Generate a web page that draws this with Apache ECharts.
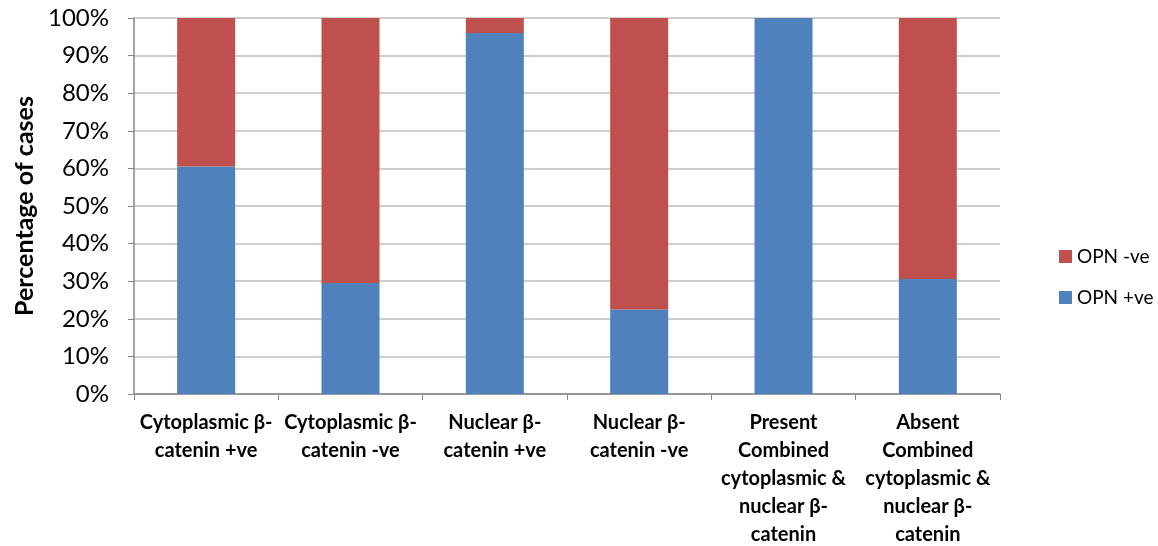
<!DOCTYPE html>
<html>
<head>
<meta charset="utf-8">
<script src="https://cdn.jsdelivr.net/npm/echarts@6/dist/echarts.min.js"></script>
<style>html,body{margin:0;padding:0;background:#fff;}#c{width:1158px;height:546px;}</style>
</head>
<body>
<div id="c"></div>
<script>
const categories = [
  'Cytoplasmic β-\ncatenin +ve',
  'Cytoplasmic β-\ncatenin -ve',
  'Nuclear β-\ncatenin +ve',
  'Nuclear β-\ncatenin -ve',
  'Present\nCombined\ncytoplasmic &\nnuclear β-\ncatenin',
  'Absent\nCombined\ncytoplasmic &\nnuclear β-\ncatenin'
];
const opnPos = [60.5, 29.5, 96.0, 22.5, 100, 30.6];
const opnNeg = [39.5, 70.5, 4.0, 77.5, 0, 69.4];
const yTicks = [0, 10, 20, 30, 40, 50, 60, 70, 80, 90, 100];

const chart = echarts.init(document.getElementById('c'), null, {renderer: 'canvas'});
const font = 'Lato, "Open Sans", sans-serif';
chart.setOption({
  animation: false,
  textStyle: {fontFamily: font},
  grid: {left: 134, right: 158, top: 18, bottom: 152, containLabel: false, outerBoundsMode: 'none'},
  legend: {
    data: ['OPN -ve', 'OPN +ve'],
    orient: 'vertical',
    left: 1054, top: 242,
    itemWidth: 13, itemHeight: 13, itemGap: 22,
    icon: 'rect',
    textStyle: {fontSize: 19, color: '#000', fontFamily: font}
  },
  xAxis: {
    type: 'category',
    data: categories,
    axisLine: {lineStyle: {color: '#868686', width: 1.5}},
    axisTick: {show: true, length: 6, lineStyle: {color: '#868686'}},
    axisLabel: {interval: 0, fontSize: 20, fontWeight: 'bold', color: '#000', lineHeight: 28, margin: 15, fontFamily: font}
  },
  yAxis: {
    type: 'value', min: 0, max: 100, interval: 10,
    name: 'Percentage of cases', nameLocation: 'middle', nameGap: 93, nameRotate: 90,
    nameTextStyle: {fontSize: 25, fontWeight: 'bold', color: '#000', fontFamily: font},
    axisLine: {show: true, lineStyle: {color: '#868686', width: 1.5}},
    axisTick: {show: true, length: 6, lineStyle: {color: '#868686'}},
    splitLine: {lineStyle: {color: '#BFBFBF', width: 1.5}},
    axisLabel: {fontSize: 24, color: '#000', margin: 25, fontFamily: font,
      formatter: v => yTicks.includes(v) ? v + '%' : ''}
  },
  series: [
    {name: 'OPN +ve', type: 'bar', stack: 'a', data: opnPos, barWidth: 58,
     itemStyle: {color: '#4F81BD'}},
    {name: 'OPN -ve', type: 'bar', stack: 'a', data: opnNeg, barWidth: 58,
     itemStyle: {color: '#C0504D'}}
  ]
});
</script>
</body>
</html>
